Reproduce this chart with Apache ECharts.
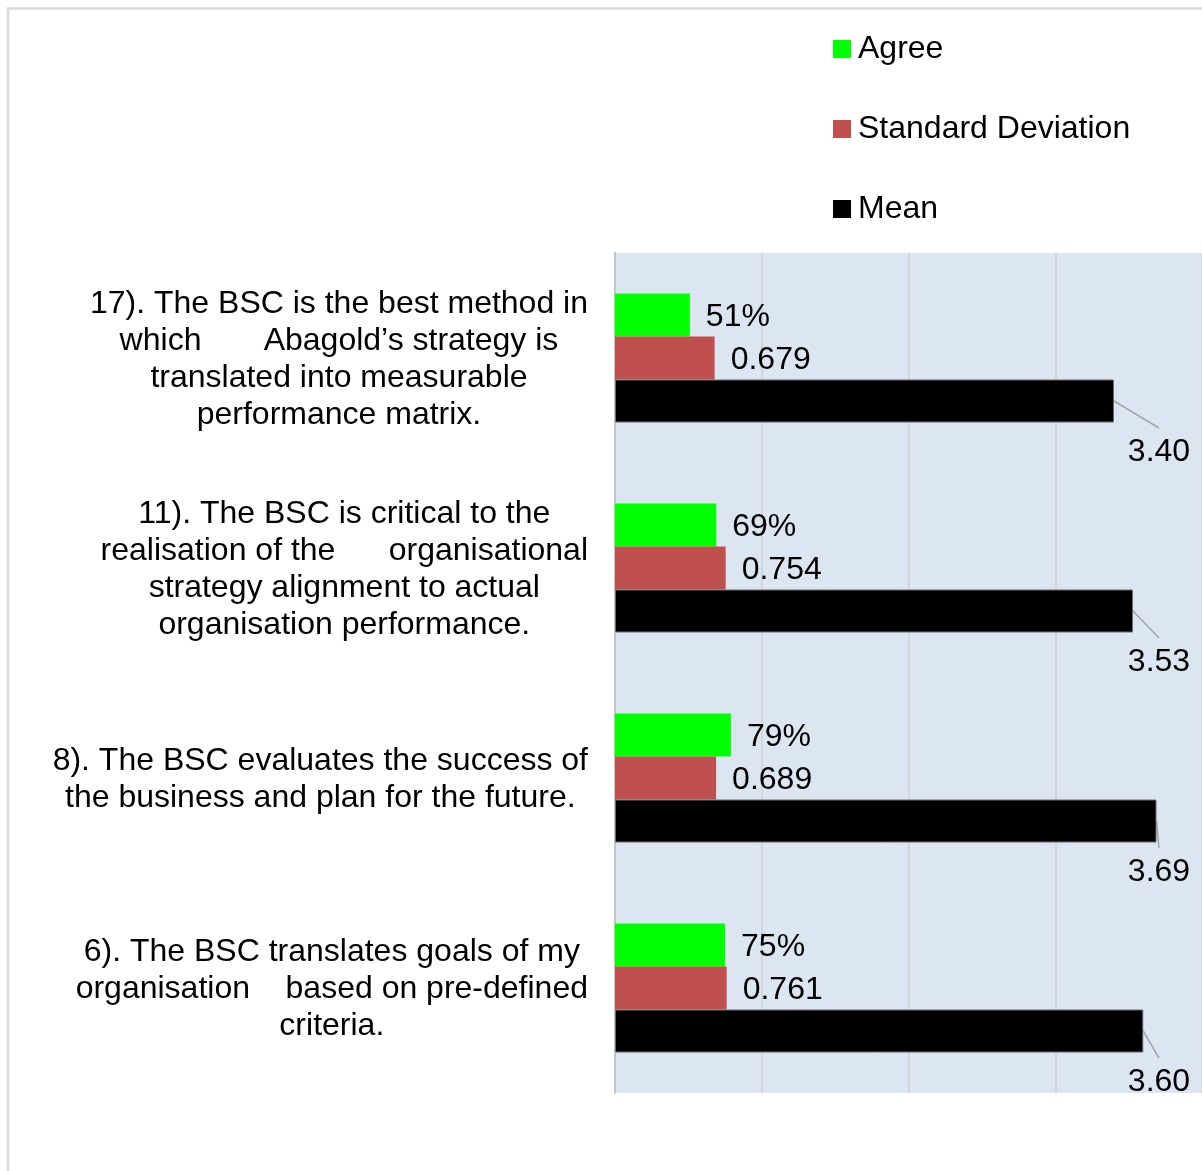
<!DOCTYPE html>
<html>
<head>
<meta charset="utf-8">
<title>BSC survey results</title>
<script src="https://cdn.jsdelivr.net/npm/echarts@6/dist/echarts.min.js"></script>
<style>
  html, body { margin: 0; padding: 0; background: #ffffff; }
  #chart { width: 1202px; height: 1171px; }
</style>
</head>
<body>
<div id="chart"></div>
<script>
// Survey statements, listed top to bottom
const categories = [
  '17). The BSC is the best method in\nwhich       Abagold\u2019s strategy is\ntranslated into measurable\nperformance matrix.',
  '11). The BSC is critical to the\nrealisation of the      organisational\nstrategy alignment to actual\norganisation performance.',
  '8). The BSC evaluates the success of\nthe business and plan for the future.',
  '6). The BSC translates goals of my\norganisation    based on pre-defined\ncriteria.'
];
const seriesNames = ['Agree', 'Standard Deviation', 'Mean'];
const agree = [0.51, 0.69, 0.79, 0.75];      // share of respondents who agree
const stdDev = [0.679, 0.754, 0.689, 0.761];
const mean = [3.40, 3.53, 3.69, 3.60];
const valueTicks = [0, 1, 2, 3, 4];

const FONT = '"Liberation Sans", Arial, "Helvetica Neue", sans-serif';
const BAR_W = 43;              // each of the three bars in a group
const MEAN_LABEL_DROP = 51;    // mean label centre sits this far below its bar's centre
const MEAN_LABEL_INSET = 43;   // mean label centre, measured from the right edge
const chart = echarts.init(document.getElementById('chart'));

const option = {
  backgroundColor: '#ffffff',
  animation: false,
  textStyle: { fontFamily: FONT, color: '#000000' },
  graphic: [{
    type: 'rect',
    silent: true,
    shape: { x: 8, y: 8.5, width: 1400, height: 1400 },
    style: { fill: 'none', stroke: '#d9d9d9', lineWidth: 2.5 }
  }],
  legend: {
    orient: 'vertical',
    left: 828,
    top: 26,
    icon: 'rect',
    itemWidth: 18,
    itemHeight: 18,
    itemGap: 44,
    data: seriesNames,
    itemStyle: { borderWidth: 0 },
    textStyle: { fontFamily: FONT, fontSize: 32, lineHeight: 36, color: '#000000', padding: [0, 0, 0, 2] }
  },
  grid: {
    left: 615,
    right: 0,
    top: 253,
    bottom: 78,
    show: true,
    backgroundColor: '#dce6f2',
    borderWidth: 0,
    containLabel: false,
    outerBoundsMode: 'none'
  },
  xAxis: {
    type: 'value',
    min: valueTicks[0],
    max: valueTicks[valueTicks.length - 1],
    interval: 1,
    axisLine: { show: false },
    axisTick: { show: false },
    axisLabel: { show: false },
    splitLine: { show: true, lineStyle: { color: '#d0d0d0', width: 1.5 } }
  },
  yAxis: {
    type: 'category',
    inverse: true,
    data: categories,
    axisLine: { show: true, lineStyle: { color: '#c4c4c4', width: 2 } },
    axisTick: { show: false },
    splitLine: { show: false },
    axisLabel: {
      margin: 27,
      align: 'right',
      padding: [3, 0, 0, 0],
      fontFamily: FONT,
      fontSize: 32,
      color: '#000000',
      formatter: function (v) {
        return v.split('\n').map(function (s) { return '{c|' + s + '}'; }).join('\n');
      },
      rich: {
        c: { align: 'center', fontFamily: FONT, fontSize: 32, lineHeight: 37, color: '#000000' }
      }
    }
  },
  series: [
    {
      name: seriesNames[0],
      type: 'bar',
      data: agree,
      barWidth: BAR_W,
      barGap: '0%',
      itemStyle: { color: '#00ff00' },
      label: {
        show: true,
        position: 'right',
        distance: 16,
        offset: [0, 2],
        fontFamily: FONT,
        fontSize: 32,
        color: '#000000',
        formatter: function (p) { return Math.round(p.value * 100) + '%'; }
      }
    },
    {
      name: seriesNames[1],
      type: 'bar',
      data: stdDev,
      barWidth: BAR_W,
      barGap: '0%',
      itemStyle: { color: '#c0504d' },
      label: {
        show: true,
        position: 'right',
        distance: 16,
        offset: [0, 2],
        fontFamily: FONT,
        fontSize: 32,
        color: '#000000',
        formatter: function (p) { return p.value.toFixed(3); }
      }
    },
    {
      name: seriesNames[2],
      type: 'bar',
      data: mean,
      barWidth: BAR_W,
      barGap: '0%',
      z: 3,
      itemStyle: { color: '#000000', borderColor: '#6b6b6b', borderWidth: 1 },
      label: {
        show: true,
        position: 'right',
        fontFamily: FONT,
        fontSize: 32,
        color: '#000000',
        formatter: function (p) { return p.value.toFixed(2); }
      },
      // Mean labels sit below the bar end, near the right edge
      labelLayout: function (p) {
        return {
          x: chart.getWidth() - MEAN_LABEL_INSET,
          y: p.rect.y + p.rect.height / 2 + MEAN_LABEL_DROP,
          align: 'center',
          verticalAlign: 'middle'
        };
      }
    },
    {
      // Guide lines from each mean bar's end down to its value label
      name: 'meanGuide',
      type: 'custom',
      silent: true,
      z: 2,
      data: mean.map(function (v, i) { return [v, i]; }),
      encode: { x: 0, y: 1 },
      renderItem: function (params, api) {
        const end = api.coord([api.value(0), api.value(1)]);
        const barMidY = end[1] + BAR_W;          // third bar of the group
        const lx = api.getWidth() - MEAN_LABEL_INSET;
        const ly = barMidY + MEAN_LABEL_DROP - 24;
        return {
          type: 'line',
          shape: { x1: end[0], y1: barMidY, x2: lx, y2: ly },
          style: { stroke: '#a6a6a6', lineWidth: 1.5 }
        };
      }
    }
  ]
};

chart.setOption(option);
</script>
</body>
</html>
